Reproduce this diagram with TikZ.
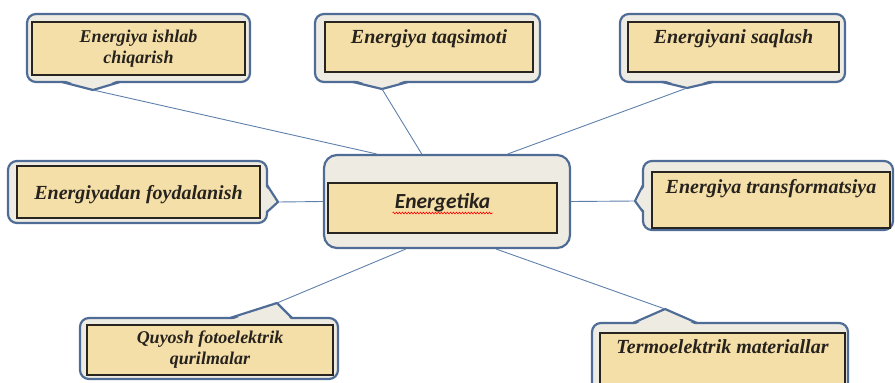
\documentclass[tikz,border=0pt]{standalone}
\usepackage{fontspec}
\setmainfont{Liberation Serif}
\newfontfamily\calibri{Carlito}
\usetikzlibrary{decorations.pathmorphing,calc}
\definecolor{bubbleblue}{RGB}{79,108,150}
\definecolor{bubblefill}{RGB}{238,236,226}
\definecolor{paperfill}{RGB}{245,223,168}
\definecolor{paperline}{RGB}{40,36,32}
\definecolor{linkblue}{RGB}{96,128,172}
\definecolor{inkdark}{RGB}{38,34,30}

\begin{document}
\begin{tikzpicture}
  [x=1pt,y=-1pt,
   bubble/.style={rectangle,draw=bubbleblue,line width=2.2pt,fill=bubblefill,
                  rounded corners=9pt,inner sep=0pt},
   tail/.style={draw=bubbleblue,line width=2.2pt,line join=round},
   hub/.style={rectangle,draw=bubbleblue,line width=2.2pt,fill=bubblefill,
               rounded corners=13pt,inner sep=0pt},
   paper/.style={rectangle,draw=paperline,line width=1.2pt,fill=paperfill,inner sep=0pt,
                 text=inkdark,font=\bfseries\itshape\fontsize{20}{22}\selectfont},
   twoline/.style={align=center,font=\bfseries\itshape\fontsize{18}{21}\selectfont},
   link/.style={draw=linkblue,line width=0.9pt}]
  \useasboundingbox (0,0) rectangle (895,383);

  % outer bubbles
  \node[bubble,minimum width=223pt,minimum height=68pt] (ishlab)  at (138.5,48)  {};
  \node[bubble,minimum width=225pt,minimum height=68pt] (taqsim)  at (427.5,48)  {};
  \node[bubble,minimum width=225pt,minimum height=68pt] (saqlash) at (732.5,48)  {};
  \node[bubble,minimum width=259pt,minimum height=62pt] (foyda)   at (137.5,192) {};
  \node[bubble,minimum width=250pt,minimum height=69pt] (transf)  at (768,195.5) {};
  \node[bubble,minimum width=258pt,minimum height=61pt] (quyosh)  at (209,348.5) {};
  \node[bubble,minimum width=256pt,minimum height=69pt] (termo)   at (720,357.5) {};

  % tails: name / base / tip / base / inward shift
  \foreach \n/\a/\t/\b/\d in {ishlab/{62,82}/{93,90}/{120,82}/{0,-2.5},
                              taqsim/{353,82}/{382,89}/{408,82}/{0,-2.5},
                              saqlash/{662,82}/{687,88}/{713,82}/{0,-2.5},
                              foyda/{267,185}/{278,202}/{267,212}/{-2.5,0},
                              transf/{643,185}/{635,201}/{643,212}/{2.5,0},
                              quyosh/{230,318}/{277,303}/{292,318}/{0,2.5},
                              termo/{633,323}/{665,309}/{697,323}/{0,2.5}}
  {
    \coordinate (\n-tip) at (\t);
    \fill[bubblefill] ($(\a)+(\d)$) -- (\n-tip) -- ($(\b)+(\d)$) -- cycle;
    \draw[tail] (\a) -- (\n-tip) -- (\b);
  }

  % papers
  \node[paper,twoline,minimum width=213pt,minimum height=53pt] (ishlabt) at (138.5,48.5)
        {Energiya ishlab\\chiqarish};
  \node[paper,minimum width=208pt,text height=21pt,text depth=29pt] (taqsimt) at (429,47)
        {Energiya taqsimoti};
  \node[paper,minimum width=211pt,text height=21pt,text depth=29pt] (saqlasht) at (733.5,47)
        {Energiyani saqlash};
  \node[paper,minimum width=243pt,text height=33pt,text depth=19pt] (foydat) at (138.5,192)
        {Energiyadan foydalanish};
  \node[paper,minimum width=238pt,text height=21pt,text depth=35pt] (transft) at (771,200)
        {Energiya transformatsiya};
  \node[paper,twoline,minimum width=246pt,minimum height=50pt] (quyosht) at (210,350)
        {Quyosh fotoelektrik\\qurilmalar};
  \node[paper,minimum width=245pt,text height=20pt,text depth=35pt] (termot) at (722.5,360.5)
        {Termoelektrik materiallar};

  % centre
  \node[hub,minimum width=246pt,minimum height=93pt] (kor) at (447,201.5) {};
  \node[paper,font=\calibri\bfseries\itshape\fontsize{21.5}{24}\selectfont,minimum width=229pt,
        text height=25pt,text depth=25pt] (kort) at (442.5,208) {Energetika};
  \draw[red,line width=0.6pt,decorate,decoration={snake,amplitude=0.9pt,segment length=3pt}]
    ($(kort.base)+(-50,5)$) -- ($(kort.base)+(50,5)$);

  \foreach \n/\ang in {ishlab/146,taqsim/118,saqlash/38,foyda/180,transf/0,quyosh/-131,termo/-44}
    \draw[link] (\n-tip) -- (kor.\ang);
\end{tikzpicture}
\end{document}
